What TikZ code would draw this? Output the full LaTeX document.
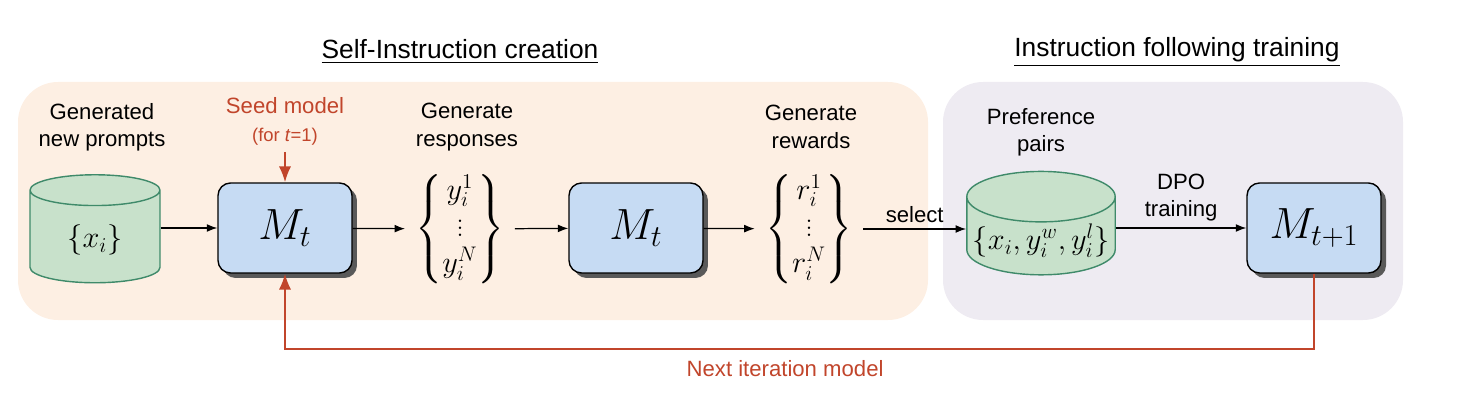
\documentclass[tikz,border=0pt]{standalone}
\usepackage{fontspec}
\setsansfont{Liberation Sans}
\usepackage{amsmath}
\usetikzlibrary{shapes.geometric,shadows,arrows.meta}
\definecolor{peach}{HTML}{FDEFE3}
\definecolor{lilac}{HTML}{EEEBF2}
\definecolor{dbfill}{HTML}{C8E1CB}
\definecolor{dbline}{HTML}{3F8A6A}
\definecolor{modelfill}{HTML}{C6DBF3}
\definecolor{rust}{HTML}{C1452B}
\begin{document}
\begin{tikzpicture}[x=0.02cm,y=-0.02cm,
  lbl/.style={font=\fontsize{12.6}{15.6}\selectfont\sffamily,align=center},
  heading/.style={font=\fontsize{15}{18}\selectfont\sffamily},
  db/.style={cylinder,shape border rotate=90,aspect=0.46,draw=dbline,fill=dbfill,line width=0.8pt,
    minimum height=2.16cm,font=\fontsize{16.5}{19}\selectfont},
  model/.style={draw,fill=modelfill,rounded corners=0.25cm,minimum width=2.68cm,minimum height=1.8cm,
    line width=0.8pt,drop shadow={shadow xshift=0.1cm,shadow yshift=-0.1cm,fill=black!65,opacity=1},
    font=\fontsize{25}{30}\selectfont},
  set/.style={font=\fontsize{17}{20}\selectfont,inner sep=0.2cm},
  flow/.style={-{Latex[length=6pt,width=4.5pt]},line width=0.7pt},
  back/.style={-{Latex[length=9pt,width=7pt]},draw=rust,line width=1.2pt}]
\useasboundingbox (0,0) rectangle (1466,408);

% background panels
\fill[peach,rounded corners=0.8cm] (18,82) rectangle (928,320);
\fill[lilac,rounded corners=0.8cm] (943,82) rectangle (1403,320);
\node[heading] (h1) at (460,52) {\underline{Self-Instruction creation}};
\node[heading] (h2) at (1177,52) {\underline{Instruction following training}};

% stage labels
\node[lbl] (l1) at (102,127) {Generated\\new prompts};
\node[lbl] (l2) at (467,127) {Generate\\responses};
\node[lbl] (l3) at (811,127) {Generate\\rewards};
\node[lbl] (l4) at (1041,132) {Preference\\pairs};
\node[lbl,text=rust] (seed) at (285,106) {Seed model};
\node[font=\fontsize{10.5}{12}\selectfont\sffamily,text=rust] (seedt) at (285,137) {(for \textit{t}=1)};

% main row
\node[model] (m1) at (285,228) {$M_t$};
\node[db,minimum width=2.6cm] (prompts) at (95,240) {$\{x_i\}$};
\node[set] (ys) at (460,229) {$\begin{Bmatrix} y_i^1 \\ \vdots \\ y_i^N \end{Bmatrix}$};
\node[model] (m2) at (636,228) {$M_t$};
\node[set] (rs) at (809,229) {$\begin{Bmatrix} r_i^1 \\ \vdots \\ r_i^N \end{Bmatrix}$};
\node[db,aspect=0.34,minimum width=2.95cm,minimum height=2.0cm,inner ysep=1pt] (pairs) at (1041,241) {$\{x_i,y_i^w,y_i^l\}$};
\node[model] (m3) at (1314,228) {$M_{t+1}$};

\draw[flow] (prompts.east |- m1) -- (m1);
\draw[flow] (m1) -- (ys);
\draw[flow] (ys) -- (m2);
\draw[flow] (m2) -- (rs);
\draw[flow] (rs) -- node[lbl,above] {select} (pairs.west |- rs);
\draw[flow] (pairs.east |- m3) -- node[lbl,above] {DPO\\training} (m3);

% seed and feedback
\draw[back] (seedt) -- (m1);
\draw[back] (m3.south) -- ++(0,75) -| (m1.south) node[pos=0.257,below=3pt,lbl,text=rust] {Next iteration model};
\end{tikzpicture}
\end{document}
